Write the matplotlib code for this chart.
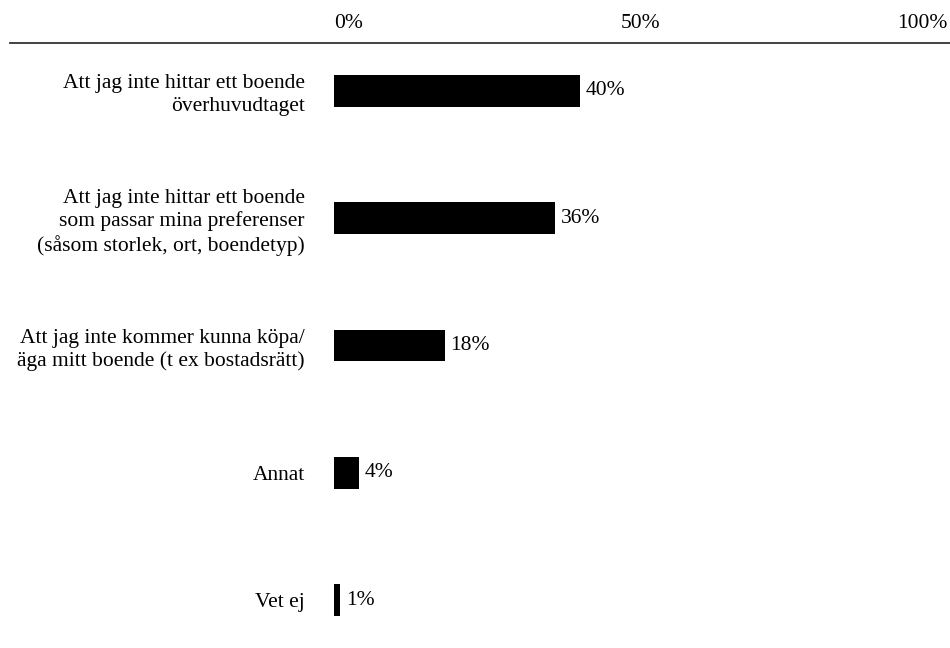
import matplotlib
matplotlib.use('Agg')
import matplotlib.pyplot as plt
from matplotlib.lines import Line2D

plt.rcParams['font.family'] = ['Liberation Serif', 'DejaVu Serif']

# svarsalternativ och andelar
kategorier = [
    'Att jag inte hittar ett boende\növerhuvudtaget',
    'Att jag inte hittar ett boende\nsom passar mina preferenser\n(såsom storlek, ort, boendetyp)',
    'Att jag inte kommer kunna köpa/\näga mitt boende (t ex bostadsrätt)',
    'Annat',
    'Vet ej',
]
andelar = [40, 36, 18, 4, 1]
xticks = [0, 50, 100]
xtick_labels = ['0%', '50%', '100%']

fs = 15.5

fig = plt.figure(figsize=(9.5, 6.48), dpi=100)
ax = fig.add_axes([334 / 950, 0, 614 / 950, (648 - 43) / 648])

pos = list(range(len(andelar)))
ax.barh(pos, andelar, height=0.25, color='black')
for p, v in zip(pos, andelar):
    ax.text(v + 1.0, p, '%d%%' % v, va='center', ha='left', fontsize=fs)

ax.set_xlim(0, 100)
ax.set_ylim(len(andelar) - 1 + 0.377, -0.377)

ax.xaxis.set_ticks_position('top')
ax.set_xticks(xticks)
ax.set_xticklabels(xtick_labels, fontsize=fs)
for lbl, ha in zip(ax.get_xticklabels(), ['left', 'center', 'right']):
    lbl.set_horizontalalignment(ha)
ax.tick_params(axis='x', length=0, pad=7)

ax.set_yticks(pos)
ax.set_yticklabels(kategorier, fontsize=fs, linespacing=1.22)
ax.tick_params(axis='y', length=0, pad=21)

for s in ax.spines.values():
    s.set_visible(False)

# linje under skalan
fig.add_artist(Line2D([10 / 950, 1.0], [1 - 43 / 648, 1 - 43 / 648],
                      transform=fig.transFigure, color='#333333', linewidth=1.3))

plt.savefig('out.png', dpi=100)
